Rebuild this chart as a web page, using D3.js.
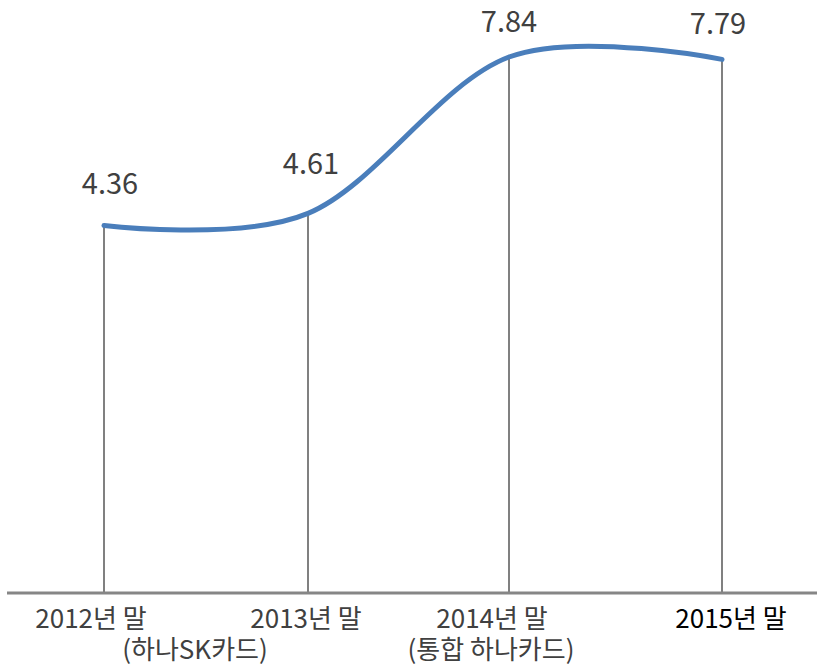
<!DOCTYPE html>
<html>
<head>
<meta charset="utf-8">
<script src="https://cdn.jsdelivr.net/npm/d3@7"></script>
<style>
  body { margin: 0; background: #fff; }
  svg text { font-family: "Noto Sans CJK KR", "Noto Sans", sans-serif; }
</style>
</head>
<body>
<svg id="chart" width="817" height="665"></svg>
<script>
// data
var years = ['2012년 말', '2013년 말', '2014년 말', '2015년 말'];
var subLabels = ['(하나SK카드)', '', '(통합 하나카드)', ''];
var values = [4.36, 4.61, 7.84, 7.79];
var valueLabels = ['4.36', '4.61', '7.84', '7.79'];

var svg = d3.select('#chart'),
    width = +svg.attr('width'),
    baseY = 593;

// categories aren't quite evenly spaced in the original
var x = d3.scaleOrdinal()
    .domain(years)
    .range([104, 308, 509, 722]);

// value axis doesn't start at zero, the baseline sits at about -3.2
var y = d3.scaleLinear()
    .domain([-3.23, 7.84])
    .range([baseY, 57]);

// drop lines from each point to the baseline
svg.selectAll('.drop')
  .data(values)
  .enter().append('line')
    .attr('class', 'drop')
    .attr('x1', function(d, i) { return x(years[i]); })
    .attr('x2', function(d, i) { return x(years[i]); })
    .attr('y1', function(d) { return y(d); })
    .attr('y2', baseY)
    .attr('stroke', '#808080')
    .attr('stroke-width', 2);

// baseline
svg.append('line')
    .attr('x1', 7).attr('x2', width)
    .attr('y1', baseY).attr('y2', baseY)
    .attr('stroke', '#868686')
    .attr('stroke-width', 3);

// smoothed line
var line = d3.line()
    .x(function(d, i) { return x(years[i]); })
    .y(function(d) { return y(d); })
    .curve(d3.curveCardinal.tension(0));

svg.append('path')
    .datum(values)
    .attr('d', line)
    .attr('fill', 'none')
    .attr('stroke', '#4a7ebb')
    .attr('stroke-width', 5)
    .attr('stroke-linecap', 'round');

// value labels, small nudges to follow the original placement
var labelNudge = [[6, -31], [3, -39], [0, -25], [-4, -25]];
svg.selectAll('.val')
  .data(values)
  .enter().append('text')
    .attr('class', 'val')
    .attr('x', function(d, i) { return x(years[i]) + labelNudge[i][0]; })
    .attr('y', function(d, i) { return y(d) + labelNudge[i][1]; })
    .attr('text-anchor', 'middle')
    .attr('font-size', 29)
    .attr('fill', '#404040')
    .text(function(d, i) { return valueLabels[i]; });

// category labels (two lines for some)
var catShift = [-13, -2, -17, 9],
    subShift = [91, 0, -18, 0];
var cats = svg.selectAll('.cat')
  .data(years)
  .enter().append('g')
    .attr('class', 'cat');

cats.append('text')
    .attr('x', function(d, i) { return x(d) + catShift[i]; })
    .attr('y', baseY + 35)
    .attr('text-anchor', 'middle')
    .attr('font-size', 26)
    .attr('fill', function(d, i) { return i === 3 ? '#000' : '#404040'; })
    .text(function(d) { return d; });

cats.append('text')
    .attr('x', function(d, i) { return x(d) + subShift[i]; })
    .attr('y', baseY + 66)
    .attr('text-anchor', 'middle')
    .attr('font-size', 26)
    .attr('fill', '#404040')
    .text(function(d, i) { return subLabels[i]; });
</script>
</body>
</html>
